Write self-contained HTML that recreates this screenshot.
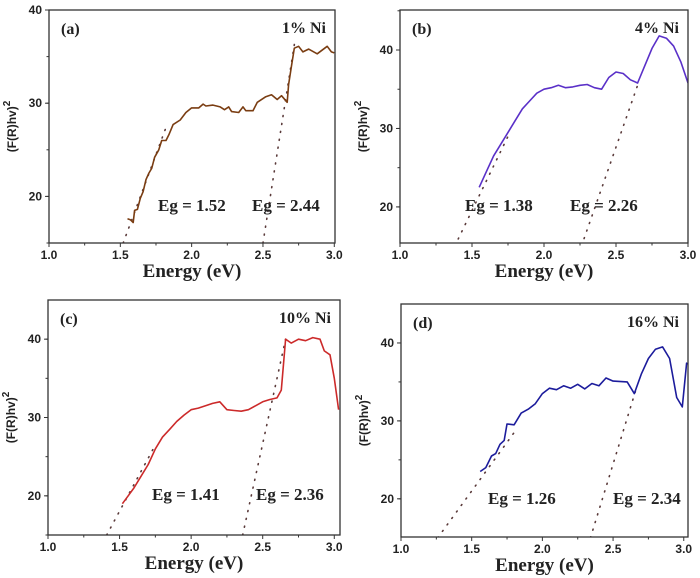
<!DOCTYPE html>
<html><head><meta charset="utf-8"><style>
html,body{margin:0;padding:0;background:#fff;}
svg{display:block;}
.tk{font-family:"Liberation Sans",sans-serif;font-weight:bold;font-size:12px;fill:#222;}
.ser{font-family:"Liberation Serif",serif;font-weight:bold;fill:#222;}
</style></head><body>
<svg id="fig" width="700" height="578" viewBox="0 0 700 578" xmlns="http://www.w3.org/2000/svg"></svg>
<script>
const aX=[1.55,1.57,1.59,1.6,1.62,1.64,1.66,1.68,1.7,1.72,1.74,1.77,1.79,1.82,1.84,1.87,1.92,1.96,2.0,2.05,2.08,2.1,2.15,2.2,2.23,2.26,2.28,2.33,2.36,2.38,2.43,2.46,2.52,2.56,2.6,2.63,2.67,2.68,2.7,2.72,2.75,2.78,2.82,2.88,2.95,2.98,3.0];
const aY=[17.6,17.5,17.2,18.5,18.6,19.8,20.5,21.8,22.5,23.0,24.2,25.0,26.0,26.0,26.6,27.7,28.2,29.0,29.5,29.5,29.9,29.7,29.8,29.6,29.3,29.6,29.1,29.0,29.6,29.2,29.2,30.1,30.7,30.9,30.4,30.8,30.1,32,34,35.9,36.1,35.5,35.8,35.3,36.1,35.5,35.4];
const bX=[1.55,1.6,1.65,1.7,1.75,1.8,1.85,1.9,1.95,2.0,2.05,2.1,2.15,2.2,2.25,2.3,2.35,2.4,2.45,2.5,2.55,2.6,2.65,2.7,2.75,2.8,2.85,2.9,2.95,3.0];
const bY=[22.5,24.5,26.5,28,29.5,31,32.5,33.5,34.5,35,35.2,35.5,35.2,35.3,35.5,35.6,35.2,35,36.5,37.2,37,36.2,35.8,38,40.2,41.8,41.5,40.5,38.5,35.8];
const cX=[1.52,1.56,1.6,1.65,1.7,1.75,1.8,1.85,1.9,1.95,2.0,2.05,2.1,2.15,2.2,2.25,2.3,2.35,2.4,2.45,2.5,2.55,2.6,2.63,2.66,2.7,2.75,2.8,2.85,2.9,2.93,2.97,3.0,3.03];
const cY=[19,20,21,22.5,24,26,27.5,28.5,29.5,30.3,31,31.2,31.5,31.8,32,31,30.9,30.8,31,31.5,32,32.3,32.5,33.5,40,39.5,40,39.8,40.2,40,38.5,38,35,31];
const dX=[1.56,1.6,1.64,1.67,1.7,1.73,1.75,1.8,1.85,1.9,1.95,2.0,2.05,2.1,2.15,2.2,2.25,2.3,2.35,2.4,2.45,2.5,2.6,2.65,2.7,2.75,2.8,2.85,2.9,2.95,2.99,3.02,3.04];
const dY=[23.5,24,25.5,25.8,27,27.5,29.6,29.5,31,31.5,32.2,33.5,34.2,34,34.5,34.2,34.7,34.1,34.8,34.5,35.5,35.1,35,33.5,36,38,39.2,39.5,38,33,31.8,37.4,37.2];
const yTicks=[20,30,40];
const xTicks=[1.0,1.5,2.0,2.5,3.0];
const fitA=[[1.52,15,1.83,27.8],[2.50,15,2.72,36.3]];
const fitB=[[1.38,15,1.75,29],[2.26,15,2.65,35.5]];
const fitC=[[1.41,15,1.75,26.5],[2.36,15,2.66,40]];
const fitD=[[1.26,15,1.8,28.5],[2.34,15,2.67,34.5]];
const NS="http://www.w3.org/2000/svg";
const svg=document.getElementById('fig');
function mk(tag,attrs,parent,text){const e=document.createElementNS(NS,tag);for(const k in attrs)e.setAttribute(k,attrs[k]);if(text!==undefined)e.textContent=text;(parent||svg).appendChild(e);return e;}
const panels=[
 {id:'a',L:49,R:335,T:10,B:243,xmax:3.005,ymin:15,ymax:40,xs:aX,ys:aY,col:'#7a3d12',fit:fitA,lab:'(a)',conc:'1%  Ni',eg1:'Eg = 1.52',eg2:'Eg = 2.44',e1x:158,e2x:252,ey:211},
 {id:'b',L:400,R:688,T:10,B:243,xmax:3.0,ymin:15.4,ymax:45.1,xs:bX,ys:bY,col:'#5a30c8',fit:fitB,lab:'(b)',conc:'4%  Ni',eg1:'Eg = 1.38',eg2:'Eg = 2.26',e1x:465,e2x:570,ey:211},
 {id:'c',L:48,R:340,T:300,B:535,xmax:3.04,ymin:15,ymax:45,xs:cX,ys:cY,col:'#cc2a2a',fit:fitC,lab:'(c)',conc:'10%  Ni',eg1:'Eg = 1.41',eg2:'Eg = 2.36',e1x:152,e2x:256,ey:500},
 {id:'d',L:401,R:688,T:304,B:537,xmax:3.03,ymin:15.1,ymax:45,xs:dX,ys:dY,col:'#1c1c9c',fit:fitD,lab:'(d)',conc:'16%  Ni',eg1:'Eg = 1.26',eg2:'Eg = 2.34',e1x:488,e2x:613,ey:504}
];
panels.forEach(p=>{
 const sx=v=>p.L+(v-1)/(p.xmax-1)*(p.R-p.L);
 const sy=v=>p.B-(v-p.ymin)/(p.ymax-p.ymin)*(p.B-p.T);
 const g=mk('g',{});
 
 
 const cp=mk('clipPath',{id:'cp'+p.id},g);mk('rect',{x:p.L,y:p.T,width:p.R-p.L,height:p.B-p.T},cp);
 p.fit.forEach((f,i)=>{const l=mk('line',{x1:sx(f[0]),y1:sy(f[1]),x2:sx(f[2]),y2:sy(f[3]),stroke:'#5a3a3a',"stroke-width":1.6,"stroke-dasharray":'1 7',"stroke-linecap":'round','clip-path':'url(#cp'+p.id+')'},g);
  
  });
 const pts=p.xs.map((x,i)=>sx(x).toFixed(1)+','+sy(p.ys[i]).toFixed(1)).join(' ');
 const pl=mk('polyline',{points:pts,fill:'none',stroke:p.col,"stroke-width":1.6,"stroke-linejoin":'round','clip-path':'url(#cp'+p.id+')'},g);
 
 
 const fr=mk('rect',{x:p.L,y:p.T,width:p.R-p.L,height:p.B-p.T,fill:'none',stroke:'#333',"stroke-width":1.3},g);
 
 
 for(let v=1;v<=p.xmax+1e-6;v+=0.25){const x=sx(v);const major=Math.abs(v*2-Math.round(v*2))<1e-6;mk('line',{x1:x,y1:p.B,x2:x,y2:p.B+(major?4:2.5),stroke:'#333'},g);}
 xTicks.forEach(v=>{const t=mk('text',{x:sx(v),y:p.B+16,'text-anchor':'middle',class:'tk'},g,v.toFixed(1));
  
  });
 yTicks.forEach(v=>{const y=sy(v);mk('line',{x1:p.L-4,y1:y,x2:p.L,y2:y,stroke:'#333'},g);
  const t=mk('text',{x:p.L-7,y:y+4,'text-anchor':'end',class:'tk'},g,String(v));
  
  });
 for(let v=15;v<p.ymax;v+=5){if(v>=p.ymin)mk('line',{x1:p.L-2.5,y1:sy(v),x2:p.L,y2:sy(v),stroke:'#333'},g);}
 const xt=mk('text',{x:(p.L+p.R)/2,y:p.B+34,'text-anchor':'middle',class:'ser','font-size':19},g,'Energy (eV)');
 
 
 const yx=p.L-33,yy=(p.T+p.B)/2;
 const yt=mk('text',{x:yx,y:yy,'text-anchor':'middle',class:'tk','font-size':13,transform:'rotate(-90 '+yx+' '+yy+')'},g);
 
 
 yt.appendChild(document.createTextNode('(F(R)hv)'));
 mk('tspan',{dy:-6,'font-size':10},yt,'2');
 const lb=mk('text',{x:p.L+12,y:p.T+24,class:'ser','font-size':16},g,p.lab);
 
 
 const cc=mk('text',{x:p.R-9,y:p.T+23,'text-anchor':'end',class:'ser','font-size':16,fill:'#333'},g,p.conc);
 
 
 [[p.eg1,p.e1x],[p.eg2,p.e2x]].forEach((e,i)=>{const t=mk('text',{x:e[1],y:p.ey,class:'ser','font-size':17},g,e[0]);
  
  });
});
</script>
</body></html>
